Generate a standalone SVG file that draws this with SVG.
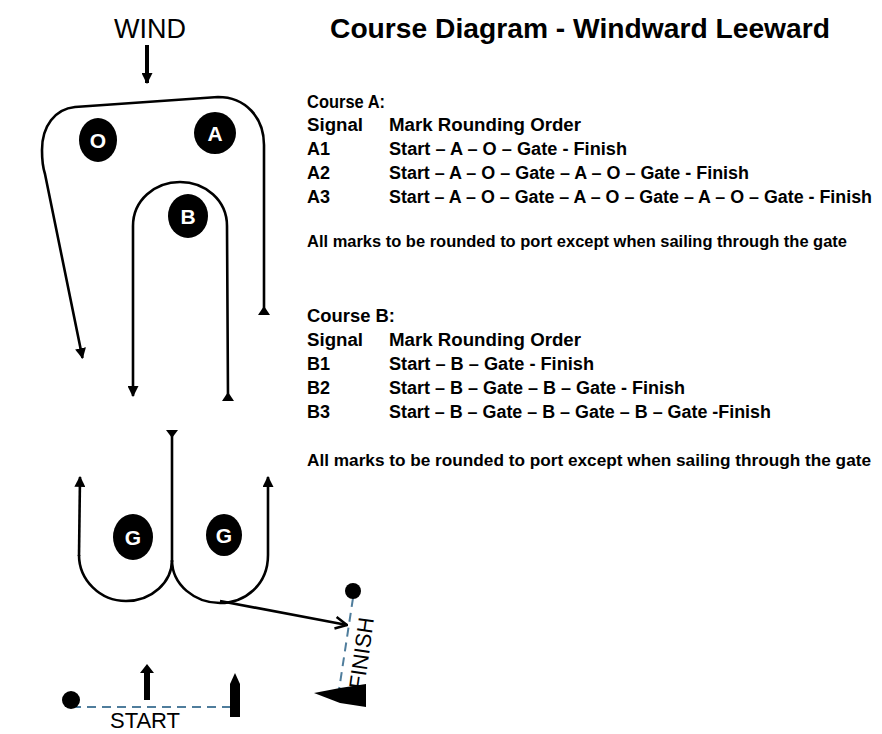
<svg xmlns="http://www.w3.org/2000/svg" width="882" height="734" viewBox="0 0 882 734">
<style>
.t{font-family:"Liberation Sans",Arial,sans-serif;font-weight:bold;font-size:18px;fill:#000}
.r{font-family:"Liberation Sans",Arial,sans-serif;fill:#000}
.ln{fill:none;stroke:#000;stroke-width:2.6}
.mk{fill:#000}
.ml{font-family:"Liberation Sans",Arial,sans-serif;font-weight:bold;font-size:21px;fill:#fff;text-anchor:middle}
.dash{fill:none;stroke:#4f7d9c;stroke-width:2;stroke-dasharray:9 6}
</style>
<defs>
<marker id="ah" viewBox="0 0 10 10" refX="9" refY="5" markerWidth="11" markerHeight="11" markerUnits="userSpaceOnUse" orient="auto"><path d="M0,0 L10,5 L0,10 Z" fill="#000"/></marker>
<marker id="open" viewBox="0 0 12 12" refX="11" refY="6" markerWidth="14" markerHeight="14" markerUnits="userSpaceOnUse" orient="auto"><path d="M1,1 L11,6 L1,11" fill="none" stroke="#000" stroke-width="2.2"/></marker>
</defs>
<rect width="882" height="734" fill="#fff"/>
<text class="r" x="150" y="38" style="font-size:27px" text-anchor="middle">WIND</text>
<text class="t" x="330" y="38" style="font-size:28px" textLength="500" lengthAdjust="spacingAndGlyphs">Course Diagram - Windward Leeward</text>
<g id="courseA-text">
<text class="t" x="307" y="108" textLength="78" lengthAdjust="spacingAndGlyphs">Course A:</text>
<text class="t" x="307" y="131" textLength="56" lengthAdjust="spacingAndGlyphs">Signal</text>
<text class="t" x="389" y="131" textLength="192" lengthAdjust="spacingAndGlyphs">Mark Rounding Order</text>
<text class="t" x="307" y="155">A1</text>
<text class="t" x="389" y="155" textLength="238" lengthAdjust="spacingAndGlyphs">Start – A – O – Gate - Finish</text>
<text class="t" x="307" y="179">A2</text>
<text class="t" x="389" y="179" textLength="360" lengthAdjust="spacingAndGlyphs">Start – A – O – Gate – A – O – Gate - Finish</text>
<text class="t" x="307" y="203">A3</text>
<text class="t" x="389" y="203" textLength="483" lengthAdjust="spacingAndGlyphs">Start – A – O – Gate – A – O – Gate – A – O – Gate - Finish</text>
<text class="t" x="307" y="247" style="font-size:17px" textLength="540" lengthAdjust="spacingAndGlyphs">All marks to be rounded to port except when sailing through the gate</text>
</g>
<g id="courseB-text">
<text class="t" x="307" y="322" textLength="88" lengthAdjust="spacingAndGlyphs">Course B:</text>
<text class="t" x="307" y="346" textLength="56" lengthAdjust="spacingAndGlyphs">Signal</text>
<text class="t" x="389" y="346" textLength="192" lengthAdjust="spacingAndGlyphs">Mark Rounding Order</text>
<text class="t" x="307" y="370">B1</text>
<text class="t" x="389" y="370" textLength="205" lengthAdjust="spacingAndGlyphs">Start – B – Gate - Finish</text>
<text class="t" x="307" y="394">B2</text>
<text class="t" x="389" y="394" textLength="296" lengthAdjust="spacingAndGlyphs">Start – B – Gate – B – Gate - Finish</text>
<text class="t" x="307" y="418">B3</text>
<text class="t" x="389" y="418" textLength="382" lengthAdjust="spacingAndGlyphs">Start – B – Gate – B – Gate – B – Gate -Finish</text>
<text class="t" x="307" y="466" style="font-size:17px" textLength="564" lengthAdjust="spacingAndGlyphs">All marks to be rounded to port except when sailing through the gate</text>
</g>
<g id="connectors">
<line x1="147" y1="45" x2="147" y2="83" stroke="#000" stroke-width="4" marker-end="url(#ah)"/>
<path class="ln" d="M264 311 L264 145 C264 117 245 97 218 97 L75 107 C55 109 42 126 42 150 C42 160 43 168 45 174 L82.5 358" marker-end="url(#ah)"/>
<polygon class="mk" points="264,306 258,315 270,315"/>
<path class="ln" d="M228 397 L227 226 C227 200 205 182 180 182 C155 182 133 200 133 226 L133 396" marker-end="url(#ah)"/>
<polygon class="mk" points="228,392 222,401 234,401"/>
<path class="ln" d="M172 432 L172 562"/>
<polygon class="mk" points="166,430 178,430 172,438"/>
<path class="ln" d="M79 555 C79 580 100 601 126 601 C152 601 172 582 172 560 C172 585 195 603 220 603 C245 603 268 585 268 555 L268 477" marker-end="url(#ah)"/>
<path class="ln" d="M79 556 L80 477" marker-end="url(#ah)"/>
<path class="ln" d="M220 601 L347 625" marker-end="url(#open)"/>
</g>
<g id="mark-O"><ellipse cx="98" cy="140" rx="19" ry="22" class="mk"/><text class="ml" x="98" y="148">O</text></g>
<g id="mark-A"><ellipse cx="215" cy="133" rx="21" ry="21" class="mk"/><text class="ml" x="215" y="141">A</text></g>
<g id="mark-B"><ellipse cx="188" cy="216" rx="20" ry="22" class="mk"/><text class="ml" x="188" y="224">B</text></g>
<g id="mark-G1"><ellipse cx="133" cy="537" rx="20" ry="23" class="mk"/><text class="ml" x="133" y="545">G</text></g>
<g id="mark-G2"><ellipse cx="224" cy="535" rx="18" ry="21" class="mk"/><text class="ml" x="224" y="543">G</text></g>
<g id="finish">
<line class="dash" x1="353" y1="598" x2="339" y2="690"/>
<circle cx="353" cy="591" r="8" class="mk"/>
<polygon class="mk" points="314,693 340,688 366,684 366,707 340,703"/>
<text class="r" style="font-size:22px" transform="translate(364,690) rotate(-82)">FINISH</text>
</g>
<g id="start">
<line class="dash" x1="72" y1="707" x2="234" y2="707"/>
<circle cx="71" cy="700" r="9" class="mk"/>
<polygon class="mk" points="230,717 230,684 235,673 240,684 240,717"/>
<polygon class="mk" points="144,700 144,673 140,673 147,664 154,673 150,673 150,700"/>
<text class="r" x="145" y="728" style="font-size:22px" text-anchor="middle">START</text>
</g>
</svg>
